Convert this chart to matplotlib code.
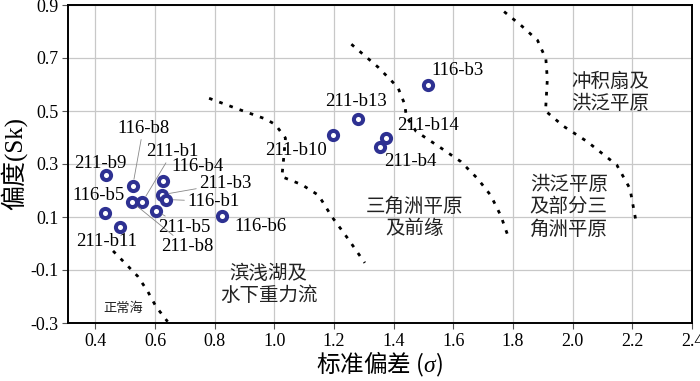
import matplotlib
matplotlib.use("Agg")
import matplotlib.pyplot as plt

# sample points (sigma, Sk)
names = ["211-b9", "116-b8", "211-b8", "211-b1", "116-b5", "211-b11", "116-b4", "211-b3",
         "116-b1", "211-b5", "116-b6", "211-b10", "211-b13", "211-b14", "211-b4", "116-b3"]
sigma = [0.437, 0.525, 0.523, 0.557, 0.431, 0.483, 0.625, 0.623,
         0.637, 0.603, 0.825, 1.198, 1.281, 1.375, 1.353, 1.514]
skew = [0.258, 0.217, 0.156, 0.156, 0.114, 0.063, 0.235, 0.184,
        0.166, 0.124, 0.105, 0.411, 0.470, 0.400, 0.366, 0.598]

# label anchor positions (data coords)
label_x = [0.418, 0.560, 0.707, 0.659, 0.409, 0.438, 0.741, 0.835,
           0.795, 0.698, 0.953, 1.074, 1.274, 1.516, 1.455, 1.615]
label_y = [0.302, 0.435, -0.012, 0.347, 0.182, 0.006, 0.290, 0.226,
           0.159, 0.061, 0.064, 0.350, 0.535, 0.446, 0.309, 0.652]
with_leader = ["116-b8", "211-b8", "211-b1", "211-b3", "116-b1", "211-b5"]

# facies boundaries
b1_x = [0.459, 0.500, 0.542, 0.575, 0.603, 0.642]
b1_y = [-0.028, -0.075, -0.124, -0.180, -0.238, -0.295]
b2_x = [0.781, 0.881, 0.970, 1.003, 1.037, 1.031, 1.025, 1.092, 1.148, 1.192, 1.248, 1.303]
b2_y = [0.548, 0.506, 0.470, 0.449, 0.398, 0.321, 0.252, 0.222, 0.182, 0.102, 0.016, -0.073]
b3_x = [1.258, 1.348, 1.414, 1.437, 1.442, 1.475, 1.559, 1.625, 1.681, 1.725, 1.759, 1.781]
b3_y = [0.752, 0.665, 0.589, 0.525, 0.480, 0.423, 0.360, 0.309, 0.245, 0.182, 0.105, 0.035]
b4_x = [1.770, 1.826, 1.882, 1.910, 1.915, 1.909, 1.970, 2.048, 2.148, 2.192, 2.214]
b4_y = [0.875, 0.824, 0.767, 0.697, 0.620, 0.500, 0.442, 0.385, 0.296, 0.207, 0.073]
boundaries = [(b1_x, b1_y), (b2_x, b2_y), (b3_x, b3_y), (b4_x, b4_y)]

zones = ["正常海", "滨浅湖及\n水下重力流", "三角洲平原\n及前缘", "洪泛平原\n及部分三\n角洲平原", "冲积扇及\n洪泛平原"]
zone_x = [0.492, 0.981, 1.47, 1.987, 2.125]
zone_y = [-0.245, -0.155, 0.098, 0.139, 0.570]
zone_size = [9.5, 14, 14, 14, 14]

x_ticks = [0.4, 0.6, 0.8, 1.0, 1.2, 1.4, 1.6, 1.8, 2.0, 2.2, 2.4]
y_ticks = [-0.3, -0.1, 0.1, 0.3, 0.5, 0.7, 0.9]

SERIF = ["Liberation Serif", "Noto Sans CJK SC"]
CJK = ["Noto Sans CJK SC", "DejaVu Sans"]
plt.rcParams["mathtext.fontset"] = "custom"
plt.rcParams["mathtext.it"] = "Liberation Serif:italic"
plt.rcParams["mathtext.rm"] = "Liberation Serif"

fig = plt.figure(figsize=(7, 3.81), dpi=100)
ax = fig.add_axes([68 / 700, 1 - 323 / 381, (692 - 68) / 700, (323 - 5) / 381])
ax.set_xlim(0.308, 2.4)
ax.set_ylim(-0.3, 0.9)

ax.set_xticks(x_ticks)
ax.set_xticklabels([f"{t:.1f}" for t in x_ticks], family=SERIF, fontsize=13)
ax.set_yticks(y_ticks)
ax.set_yticklabels([f"{t:.1f}" for t in y_ticks], family=SERIF, fontsize=13)
ax.tick_params(direction="out", length=4, width=0.8, color="#555555", pad=3)
ax.grid(True, color="#c8c8c8", linewidth=0.9)
ax.set_axisbelow(True)
for sp in ax.spines.values():
    sp.set_linewidth(1.4)
    sp.set_color("black")

for bx, by in boundaries:
    ax.plot(bx, by, color="black", linewidth=2, linestyle=(0, (1.3, 2.6)), zorder=2)

ax.plot(sigma, skew, linestyle="none", marker="o", markersize=6.6,
        markerfacecolor="white", markeredgecolor="#2e3192", markeredgewidth=2.9, zorder=4)

for n, px, py, lx, ly in zip(names, sigma, skew, label_x, label_y):
    if n in with_leader:
        ax.annotate(n, xy=(px, py), xytext=(lx, ly), ha="center", va="center",
                    family=SERIF, fontsize=13.5, zorder=5,
                    arrowprops=dict(arrowstyle="-", color="#888888", lw=0.6,
                                    shrinkA=0, shrinkB=5))
    else:
        ax.text(lx, ly, n, ha="center", va="center", family=SERIF, fontsize=13.5, zorder=5)

for t, zx, zy, fs in zip(zones, zone_x, zone_y, zone_size):
    ax.text(zx, zy, t, ha="center", va="center", family=CJK, fontsize=fs,
            color="#222222", linespacing=1.1, zorder=3)

ax.set_xlabel("标准偏差 ($\\sigma$)", family="Noto Sans CJK SC", fontsize=17, labelpad=0)
ax.set_ylabel("偏度(Sk)", family=SERIF, fontsize=18, labelpad=2)

fig.savefig("out.png", dpi=100)
